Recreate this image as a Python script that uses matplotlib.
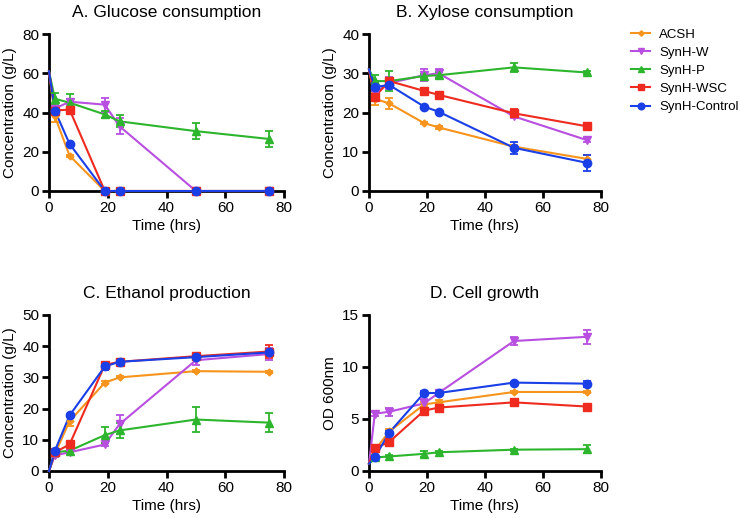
import matplotlib
matplotlib.use("Agg")
import matplotlib.pyplot as plt
from matplotlib.lines import Line2D

plt.rcParams['font.family'] = ['Liberation Sans', 'DejaVu Sans']

time = [0, 2, 7, 19, 24, 50, 75]
series = ["ACSH", "SynH-W", "SynH-P", "SynH-WSC", "SynH-Control"]
colors = ["#F7941D", "#B84FE0", "#2DB52D", "#EE2B1E", "#1A3FE6"]
markers = ["D", "v", "^", "s", "o"]
msizes = [3.5, 6, 6, 6, 6]

# A. Glucose (g/L)
glu_acsh = [61, 38, 18, 0, 0, 0, 0]
glu_w = [61, 42, 45.5, 44, 33, 0, 0]
glu_p = [61, 47, 45, 39, 35.5, 30.5, 26.5]
glu_wsc = [61, 41, 41.5, 0, 0, 0, 0]
glu_ctrl = [61, 41, 24, 0, 0, 0, 0]
glu_err_acsh = [0, 3, 0.5, 0, 0, 0, 0]
glu_err_w = [0, 1.5, 1.5, 3.5, 4, 0, 0]
glu_err_p = [0, 3, 4.5, 2, 3, 4, 4]
glu_err_wsc = [0, 2, 1, 0, 0, 0, 0]
glu_err_ctrl = [0, 1, 0.5, 0, 0, 0, 0]

# B. Xylose (g/L)
xyl_acsh = [31, 23.5, 22.3, 17.3, 16.2, 11.3, 8.2]
xyl_w = [31, 25, 27.5, 29.5, 30, 19, 13]
xyl_p = [31, 28, 28, 29.3, 29.5, 31.5, 30.2]
xyl_wsc = [31, 24, 28, 25.5, 24.5, 19.8, 16.5]
xyl_ctrl = [31, 26.5, 27, 21.5, 20.2, 11, 7.2]
xyl_err_acsh = [0, 1.5, 1.5, 0.3, 0.3, 0.5, 1]
xyl_err_w = [0, 1, 1.5, 1.5, 1, 0.5, 0.5]
xyl_err_p = [0, 1.5, 2.5, 0.5, 0.8, 1.2, 0.5]
xyl_err_wsc = [0, 0.5, 0.5, 0.5, 0.5, 1, 0.5]
xyl_err_ctrl = [0, 1, 0.5, 0.3, 0.3, 1.5, 2]

# C. Ethanol (g/L)
eth_acsh = [0, 5.5, 16, 28.3, 30, 32, 31.8]
eth_w = [0, 5, 6, 8.5, 15, 35.5, 37.5]
eth_p = [0, 6, 6.5, 11.5, 13, 16.5, 15.5]
eth_wsc = [0, 6, 8.5, 34, 35, 36.8, 38.3]
eth_ctrl = [0, 6.5, 17.8, 33.5, 35, 36.5, 38]
eth_err_acsh = [0, 0.5, 1.5, 0.5, 0.3, 0.3, 0.3]
eth_err_w = [0, 0.5, 0.5, 0.5, 3, 1.5, 2]
eth_err_p = [0, 0.5, 0.5, 2.5, 2.5, 4, 3]
eth_err_wsc = [0, 0.5, 0.5, 1, 0.5, 0.5, 2]
eth_err_ctrl = [0, 0.5, 0.5, 1, 0.5, 0.5, 0.5]

# D. Cell growth (OD 600nm)
od_acsh = [0.7, 2, 3.8, 6.4, 6.6, 7.6, 7.6]
od_w = [0.7, 5.5, 5.7, 6.5, 7.5, 12.5, 12.9]
od_p = [0.7, 1.3, 1.4, 1.65, 1.8, 2.05, 2.1]
od_wsc = [0.7, 2.2, 2.8, 5.8, 6.1, 6.6, 6.2]
od_ctrl = [0.7, 1.3, 3.7, 7.5, 7.5, 8.5, 8.4]
od_err_acsh = [0, 0.2, 0.2, 0.2, 0.2, 0.1, 0.1]
od_err_w = [0, 0.2, 0.4, 0.4, 0.3, 0.4, 0.7]
od_err_p = [0, 0.2, 0.1, 0.3, 0.1, 0.1, 0.4]
od_err_wsc = [0, 0.2, 0.2, 0.2, 0.2, 0.1, 0.1]
od_err_ctrl = [0, 0.1, 0.1, 0.2, 0.1, 0.1, 0.3]

panels = [
    dict(title="A. Glucose consumption", ylabel="Concentration (g/L)", ylim=80, yticks=[0, 20, 40, 60, 80],
         data=[glu_acsh, glu_w, glu_p, glu_wsc, glu_ctrl],
         err=[glu_err_acsh, glu_err_w, glu_err_p, glu_err_wsc, glu_err_ctrl],
         rect=[49/740, 1-191/518, 235/740, 157/518]),
    dict(title="B. Xylose consumption", ylabel="Concentration (g/L)", ylim=40, yticks=[0, 10, 20, 30, 40],
         data=[xyl_acsh, xyl_w, xyl_p, xyl_wsc, xyl_ctrl],
         err=[xyl_err_acsh, xyl_err_w, xyl_err_p, xyl_err_wsc, xyl_err_ctrl],
         rect=[369/740, 1-191/518, 232/740, 157/518]),
    dict(title="C. Ethanol production", ylabel="Concentration (g/L)", ylim=50, yticks=[0, 10, 20, 30, 40, 50],
         data=[eth_acsh, eth_w, eth_p, eth_wsc, eth_ctrl],
         err=[eth_err_acsh, eth_err_w, eth_err_p, eth_err_wsc, eth_err_ctrl],
         rect=[49/740, 1-471/518, 235/740, 156/518]),
    dict(title="D. Cell growth", ylabel="OD 600nm", ylim=15, yticks=[0, 5, 10, 15],
         data=[od_acsh, od_w, od_p, od_wsc, od_ctrl],
         err=[od_err_acsh, od_err_w, od_err_p, od_err_wsc, od_err_ctrl],
         rect=[369/740, 1-471/518, 232/740, 156/518]),
]

fig = plt.figure(figsize=(7.4, 5.18), dpi=100)
for p in panels:
    ax = fig.add_axes(p["rect"])
    for i, name in enumerate(series):
        y = p["data"][i]
        e = p["err"][i]
        ax.plot(time, y, color=colors[i], lw=1.5, zorder=3, clip_on=False)
        ax.errorbar(time[1:], y[1:], yerr=e[1:], fmt=markers[i], color=colors[i],
                    ms=msizes[i], capsize=3, elinewidth=1.3, capthick=1.3,
                    zorder=4, clip_on=False)
    ax.set_xlim(0, 80)
    ax.set_ylim(0, p["ylim"])
    ax.set_xticks([0, 20, 40, 60, 80])
    ax.set_yticks(p["yticks"])
    for s in ["top", "right"]:
        ax.spines[s].set_visible(False)
    for s in ["left", "bottom"]:
        ax.spines[s].set_linewidth(2)
    ax.tick_params(width=2, length=5, labelsize=11, direction="out", pad=2)
    ax.set_title(p["title"], fontsize=12.5, pad=12)
    ax.set_ylabel(p["ylabel"], fontsize=11)
    ax.set_xlabel("Time (hrs)", fontsize=11, labelpad=3)

handles = [Line2D([0], [0], color=colors[i], marker=markers[i], ms=msizes[i] * 0.8, lw=1.5)
           for i in range(len(series))]
fig.legend(handles, series, loc="upper left", bbox_to_anchor=(626/740, 1-23/518),
           frameon=False, fontsize=9.5, handlelength=1.45, handletextpad=0.65,
           labelspacing=0.45, borderaxespad=0)

fig.savefig("out.png", dpi=100)
